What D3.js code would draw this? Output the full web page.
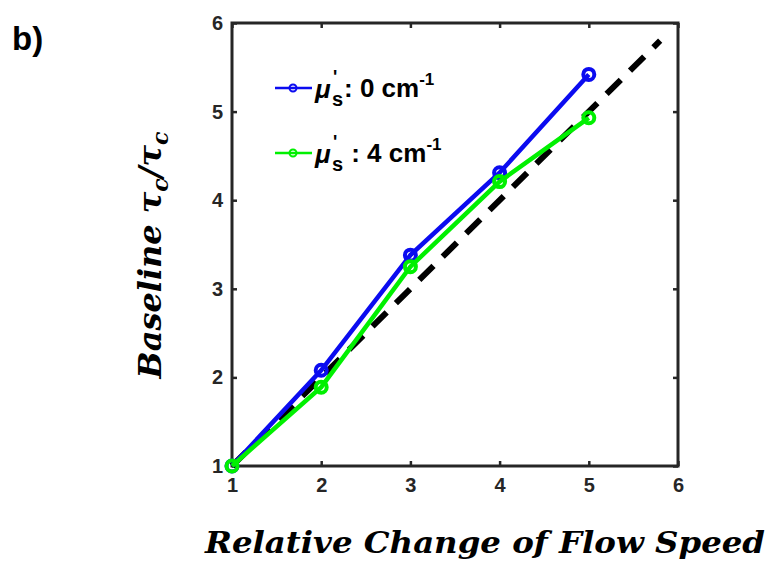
<!DOCTYPE html>
<meta charset="utf-8">
<style>
body { margin: 0; background: #fff; }
.ttl { font-family: "DejaVu Serif", serif; font-weight: bold; font-style: italic; fill: #000; }
.leg { font-family: Arial, "Liberation Sans", sans-serif; font-weight: bold; font-size: 26px; fill: #000; }
</style>
<svg width="777" height="571"></svg>
<script src="https://d3js.org/d3.v7.min.js"></script>
<script>

var speeds = [1, 2, 3, 4, 5];
var mu0 = [1, 2.08, 3.38, 4.31, 5.42];
var mu4 = [1, 1.89, 3.25, 4.21, 4.93];
var ideal = [1, 5.8];
var ticks = [1, 2, 3, 4, 5, 6];

var svg = d3.select("svg");
var m = {l: 232, r: 678, t: 23, b: 466};

var x = d3.scaleLinear().domain([1, 6]).range([m.l, m.r]);
var y = d3.scaleLinear().domain([1, 6]).range([m.b, m.t]);
var fmt = d3.format("d");

// tick marks on all four sides, pointing inwards
svg.append("g").attr("transform", "translate(0," + m.b + ")")
    .call(d3.axisBottom(x).tickValues(ticks).tickFormat(fmt).tickSize(-5).tickPadding(12));
svg.append("g").attr("transform", "translate(0," + m.t + ")")
    .call(d3.axisTop(x).tickValues(ticks).tickSize(-5).tickFormat(""));
svg.append("g").attr("transform", "translate(" + m.l + ",0)")
    .call(d3.axisLeft(y).tickValues(ticks).tickFormat(fmt).tickSize(-5).tickPadding(9));
svg.append("g").attr("transform", "translate(" + m.r + ",0)")
    .call(d3.axisRight(y).tickValues(ticks).tickSize(-5).tickFormat(""));
svg.selectAll(".domain").remove();
svg.selectAll(".tick line").attr("stroke", "#262626").attr("stroke-width", 2.5);
svg.selectAll(".tick text")
    .attr("font-family", "Arial, 'Liberation Sans', sans-serif")
    .attr("font-weight", "bold").attr("font-size", 20).attr("fill", "#262626");

svg.append("rect")
    .attr("x", m.l).attr("y", m.t)
    .attr("width", m.r - m.l).attr("height", m.b - m.t)
    .attr("fill", "none").attr("stroke", "#262626").attr("stroke-width", 3);

var line = d3.line().x(d => x(d[0])).y(d => y(d[1]));

svg.append("path")
    .attr("d", line(ideal.map(v => [v, v])))
    .attr("fill", "none").attr("stroke", "#000")
    .attr("stroke-width", 6).attr("stroke-dasharray", "20,13");

function series(vals, col) {
  var pts = speeds.map((s, i) => [s, vals[i]]);
  svg.append("path").attr("d", line(pts))
      .attr("fill", "none").attr("stroke", col).attr("stroke-width", 4.5);
  svg.append("g").selectAll("circle").data(pts).enter().append("circle")
      .attr("cx", d => x(d[0])).attr("cy", d => y(d[1])).attr("r", 5.5)
      .attr("fill", "none").attr("stroke", col).attr("stroke-width", 4);
}
series(mu0, "#0b0bf0");
series(mu4, "#00f000");

// legend
var legend = [{txt: ": 0 cm", c: "#0b0bf0", y: 88}, {txt: " : 4 cm", c: "#00f000", y: 153}];
legend.forEach(function(d) {
  svg.append("line").attr("x1", 275).attr("x2", 312).attr("y1", d.y).attr("y2", d.y)
      .attr("stroke", d.c).attr("stroke-width", 2.5);
  svg.append("circle").attr("cx", 293).attr("cy", d.y).attr("r", 3.5)
      .attr("fill", "none").attr("stroke", d.c).attr("stroke-width", 2);
  var t = svg.append("text").attr("class", "leg")
      .attr("xml:space", "preserve").style("white-space", "pre");
  t.append("tspan").attr("x", 315).attr("y", d.y + 10)
      .style("font-style", "italic").text("\u03bc");
  t.append("tspan").attr("x", 333).attr("y", d.y - 5)
      .style("font-size", "18px").text("'");
  t.append("tspan").attr("x", 332).attr("y", d.y + 18)
      .style("font-size", "20px").text("s");
  t.append("tspan").attr("x", 344).attr("y", d.y + 9).text(d.txt);
  t.append("tspan").attr("dy", -12).style("font-size", "17px").text("-1");
});

// titles
svg.append("text").attr("class", "ttl")
    .attr("x", 485).attr("y", 553).attr("text-anchor", "middle")
    .attr("textLength", 560).attr("lengthAdjust", "spacingAndGlyphs")
    .style("font-size", "29px")
    .text("Relative Change of Flow Speed");

var yt = svg.append("text").attr("class", "ttl")
    .attr("transform", "translate(161,255) rotate(-90)")
    .attr("text-anchor", "middle").style("font-size", "32px");
yt.append("tspan").text("Baseline \u03c4");
yt.append("tspan").attr("dy", 7).style("font-size", "22px").text("c");
yt.append("tspan").attr("dy", -7).text("/\u03c4");
yt.append("tspan").attr("dy", 7).style("font-size", "22px").text("c");

svg.append("text").attr("x", 12).attr("y", 50)
    .style("font-family", "Arial, 'Liberation Sans', sans-serif")
    .style("font-weight", "bold").style("font-size", "33px").text("b)");

</script>
